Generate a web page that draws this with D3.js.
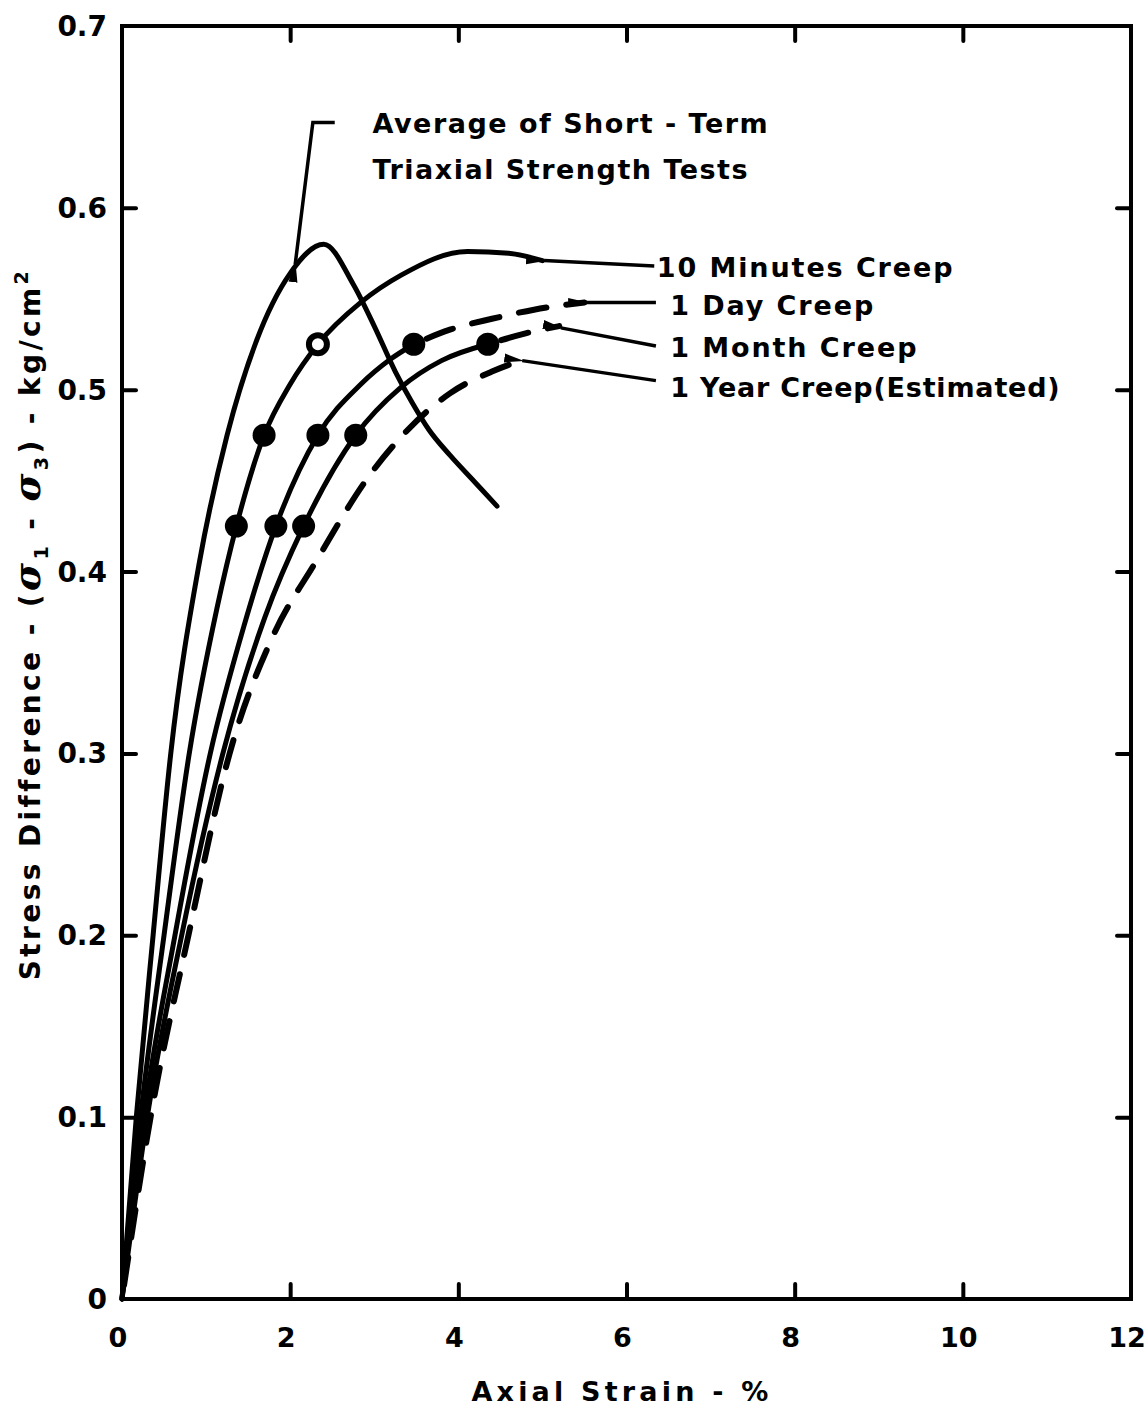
<!DOCTYPE html>
<html>
<head>
<meta charset="utf-8">
<script src="https://cdn.jsdelivr.net/npm/d3@7"></script>
<style>
  html, body { margin: 0; padding: 0; background: #fff; }
  svg { display: block; }
  text { font-family: "DejaVu Sans", sans-serif; fill: #000; }
</style>
</head>
<body>
<svg id="chart" width="1146" height="1410"></svg>
<script>
// ---------- data ----------
const xTicks = [0, 2, 4, 6, 8, 10, 12];
const xTickLabels = ["0", "2", "4", "6", "8", "10", "12"];
const yTicks = [0, 0.1, 0.2, 0.3, 0.4, 0.5, 0.6, 0.7];
const yTickLabels = ["0", "0.1", "0.2", "0.3", "0.4", "0.5", "0.6", "0.7"];

// [axial strain %, stress difference kg/cm2]
const shortTerm = [[0,0],[0.17,0.1],[0.37,0.2],[0.58,0.3],[0.92,0.405],[1.25,0.475],[1.6,0.527],[2.0,0.564],[2.4,0.58],[2.75,0.558],[3.0,0.535],[3.25,0.51],[3.45,0.493],[3.65,0.478],[3.9,0.464],[4.2,0.449],[4.46,0.436]];
const tenMinutes = [[0,0],[0.22,0.1],[0.5,0.2],[0.8,0.3],[1.13,0.38],[1.36,0.425],[1.69,0.475],[2.0,0.503],[2.33,0.525],[2.84,0.548],[3.32,0.563],[4.11,0.576],[4.6,0.575],[5.0,0.571]];
const oneDay = [[0,0],[0.26,0.1],[0.63,0.2],[1.05,0.3],[1.45,0.37],[1.83,0.425],[2.33,0.475],[2.84,0.503],[3.2,0.517],[3.47,0.525]];
const oneDayDashed = [[3.47,0.525],[3.9,0.533],[4.4,0.539],[4.9,0.544],[5.5,0.548]];
const oneMonth = [[0,0],[0.3,0.1],[0.71,0.2],[1.2,0.3],[1.7,0.375],[2.16,0.425],[2.78,0.475],[3.31,0.501],[3.8,0.516],[4.35,0.525]];
const oneMonthDashed = [[4.35,0.525],[4.8,0.531],[5.2,0.535]];
const oneYear = [[0,0],[0.34,0.1],[0.79,0.2],[1.28,0.3],[1.8,0.365],[2.3,0.405],[2.93,0.452],[3.4,0.478],[3.9,0.498],[4.4,0.51],[4.74,0.516]];

const solidDots = [[1.36,0.425],[1.69,0.475],[1.83,0.425],[2.33,0.475],[3.47,0.525],[2.16,0.425],[2.78,0.475],[4.35,0.525]];
const openDots = [[2.33,0.525]];

// annotation labels and leader lines (data units)
const labels = [
  {text: "10 Minutes Creep", x: 6.36, y: 0.568, leader: [[6.33,0.568],[5.02,0.571]]},
  {text: "1 Day Creep", x: 6.52, y: 0.547, leader: [[6.35,0.548],[5.52,0.548]]},
  {text: "1 Month Creep", x: 6.52, y: 0.524, leader: [[6.35,0.524],[5.22,0.534]]},
  {text: "1 Year Creep(Estimated)", x: 6.52, y: 0.502, leader: [[6.35,0.505],[4.76,0.516]]}
];
const shortLabel = ["Average of Short - Term", "Triaxial Strength Tests"];
const shortLeader = [[2.53,0.647],[2.27,0.647],[2.06,0.569]];

// ---------- chart ----------
const svg = d3.select("#chart");
const x = d3.scaleLinear().domain([0, 12]).range([122, 1131]);
const y = d3.scaleLinear().domain([0, 0.7]).range([1299, 26]);

// arrow marker
svg.append("defs").append("marker")
  .attr("id", "arrow").attr("viewBox", "0 0 20 10").attr("refX", 2).attr("refY", 5)
  .attr("markerWidth", 20).attr("markerHeight", 10).attr("markerUnits", "userSpaceOnUse")
  .attr("orient", "auto-start-reverse")
  .append("path").attr("d", "M0,5 L20,0.5 L20,9.5 Z").attr("fill", "#000");

// frame
svg.append("rect")
  .attr("x", x(0)).attr("y", y(0.7))
  .attr("width", x(12) - x(0)).attr("height", y(0) - y(0.7))
  .attr("fill", "none").attr("stroke", "#000").attr("stroke-width", 4);

// axes with inward ticks
const axisStyle = g => {
  g.select(".domain").remove();
  g.selectAll(".tick line").attr("stroke", "#000").attr("stroke-width", 4).attr("stroke-linecap", "round");
};
svg.append("g").attr("transform", `translate(0,${y(0)})`)
  .call(d3.axisBottom(x).tickValues(xTicks.slice(1, -1)).tickSize(-15).tickFormat(""))
  .call(axisStyle);
svg.append("g").attr("transform", `translate(0,${y(0.7)})`)
  .call(d3.axisTop(x).tickValues(xTicks.slice(1, -1)).tickSize(-15).tickFormat(""))
  .call(axisStyle);
svg.append("g").attr("transform", `translate(${x(0)},0)`)
  .call(d3.axisLeft(y).tickValues(yTicks.slice(1, -1)).tickSize(-14).tickFormat(""))
  .call(axisStyle);
svg.append("g").attr("transform", `translate(${x(12)},0)`)
  .call(d3.axisRight(y).tickValues(yTicks.slice(1, -1)).tickSize(-14).tickFormat(""))
  .call(axisStyle);

// tick labels
svg.append("g").selectAll("text").data(xTicks).join("text")
  .attr("x", d => x(d) - 4).attr("y", y(0) + 48)
  .attr("text-anchor", "middle").attr("font-size", 27).attr("font-weight", "bold")
  .text((d, i) => xTickLabels[i]);
svg.append("g").selectAll("text").data(yTicks).join("text")
  .attr("x", x(0) - 15).attr("y", d => y(d) + 10)
  .attr("text-anchor", "end").attr("font-size", 28).attr("font-weight", "bold")
  .text((d, i) => yTickLabels[i]);

// axis titles
svg.append("text")
  .attr("x", 622).attr("y", 1401)
  .attr("text-anchor", "middle").attr("font-size", 27).attr("font-weight", "bold")
  .attr("letter-spacing", 4.2)
  .text("Axial Strain - %");

const yl = svg.append("text")
  .attr("transform", "translate(40,624) rotate(-90)")
  .attr("text-anchor", "middle").attr("font-size", 28).attr("font-weight", "bold")
  .attr("letter-spacing", 3.4);
yl.append("tspan").text("Stress Difference - (");
yl.append("tspan").attr("font-style", "italic").attr("font-size", 38).attr("font-family", "DejaVu Serif").text("σ");
yl.append("tspan").attr("font-size", 19).attr("dy", 8).text("1");
yl.append("tspan").attr("dy", -8).text(" - ");
yl.append("tspan").attr("font-style", "italic").attr("font-size", 38).attr("font-family", "DejaVu Serif").text("σ");
yl.append("tspan").attr("font-size", 19).attr("dy", 8).text("3");
yl.append("tspan").attr("dy", -8).text(") - kg/cm");
yl.append("tspan").attr("font-size", 19).attr("dy", -12).text("2");

// curves
const line = d3.line().x(d => x(d[0])).y(d => y(d[1])).curve(d3.curveMonotoneX);
const solid = [shortTerm, tenMinutes, oneDay, oneMonth];
svg.append("g").selectAll("path").data(solid).join("path")
  .attr("d", line).attr("fill", "none").attr("stroke", "#000")
  .attr("stroke-width", 5).attr("stroke-linecap", "round").attr("stroke-linejoin", "round");
const dashed = [oneDayDashed, oneMonthDashed, oneYear];
svg.append("g").selectAll("path").data(dashed).join("path")
  .attr("d", line).attr("fill", "none").attr("stroke", "#000")
  .attr("stroke-width", 6).attr("stroke-dasharray", "28 20").attr("stroke-dashoffset", -14)
  .attr("stroke-linecap", "round");

// dots
svg.append("g").selectAll("circle").data(solidDots).join("circle")
  .attr("cx", d => x(d[0])).attr("cy", d => y(d[1])).attr("r", 11.5).attr("fill", "#000");
svg.append("g").selectAll("circle").data(openDots).join("circle")
  .attr("cx", d => x(d[0])).attr("cy", d => y(d[1])).attr("r", 9)
  .attr("fill", "#fff").attr("stroke", "#000").attr("stroke-width", 6);

// leaders
const straight = d3.line().x(d => x(d[0])).y(d => y(d[1]));
svg.append("g").selectAll("path").data(labels).join("path")
  .attr("d", d => straight(d.leader)).attr("fill", "none").attr("stroke", "#000")
  .attr("stroke-width", 3.5).attr("marker-end", "url(#arrow)");
svg.append("path").attr("d", straight(shortLeader)).attr("fill", "none")
  .attr("stroke", "#000").attr("stroke-width", 3.5).attr("marker-end", "url(#arrow)");

// label texts
svg.append("g").selectAll("text").data(labels).join("text")
  .attr("x", d => x(d.x)).attr("y", d => y(d.y) + 11)
  .attr("font-size", 27).attr("font-weight", "bold")
  .attr("letter-spacing", (d, i) => i === 3 ? 0.8 : 1.9)
  .text(d => d.text);
svg.append("g").selectAll("text").data(shortLabel).join("text")
  .attr("x", x(2.98)).attr("y", (d, i) => y(0.647) + 11 + i * 46)
  .attr("font-size", 27).attr("font-weight", "bold").attr("letter-spacing", 1.5)
  .text(d => d);
</script>
</body>
</html>
